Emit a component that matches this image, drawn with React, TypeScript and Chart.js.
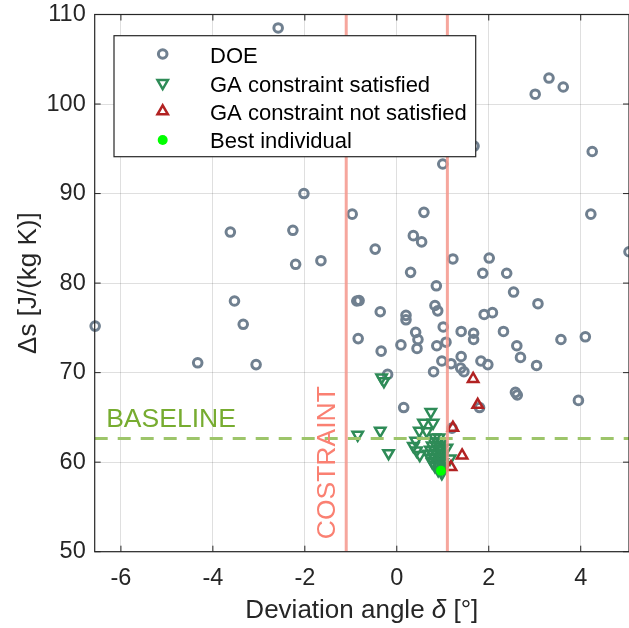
import { useEffect, useRef } from 'react';
import { Chart, registerables } from 'chart.js';
import { drawPoint } from 'chart.js/helpers';

Chart.register(...registerables);

// ---------- data ----------
const xTicks = [-6, -4, -2, 0, 2, 4];
const yTicks = [50, 60, 70, 80, 90, 100, 110];
const xRange = [-6.57, 5.05];
const yRange = [50, 110];
const constraintX = [-1.1, 1.1];
const baselineY = 62.65;
const legendLabels = ['DOE', 'GA constraint satisfied', 'GA constraint not satisfied', 'Best individual'];
const xLabel = ['Deviation angle ', 'δ', ' [°]'];
const yLabel = 'Δs [J/(kg K)]';

const doe: [number, number][] = [
  [-2.58, 108.5], [-2.02, 90.0], [-3.62, 85.7], [-2.26, 85.9], [-2.2, 82.1], [-1.65, 82.5],
  [-3.53, 78.0], [-3.34, 75.4], [-6.56, 75.2], [-4.33, 71.1], [-3.06, 70.9],
  [3.31, 102.9], [3.01, 101.1], [3.62, 101.9], [4.25, 94.7], [1.68, 95.3], [1.0, 93.3],
  [-0.97, 87.7], [0.59, 87.9], [4.22, 87.7], [-0.47, 83.8], [0.36, 85.3], [0.54, 84.6],
  [0.3, 81.2], [1.22, 82.7], [2.01, 82.8], [1.87, 81.1], [2.39, 81.1], [2.54, 79.0],
  [3.07, 77.7], [5.05, 83.5], [0.86, 79.7], [-0.87, 78.0], [-0.82, 78.05], [-0.36, 76.8],
  [0.2, 76.4], [0.2, 75.9], [0.83, 77.5], [0.89, 76.9], [1.9, 76.5], [2.08, 76.7],
  [-0.84, 73.8], [-0.34, 72.4], [0.09, 73.1], [0.41, 74.5], [0.46, 73.7], [0.44, 72.7],
  [0.87, 73.0], [1.01, 75.1], [1.07, 73.4], [0.98, 71.3], [0.8, 70.1], [1.18, 71.0],
  [1.4, 74.6], [1.4, 71.8], [1.39, 70.5], [1.46, 70.1], [1.67, 74.4], [1.67, 73.7],
  [1.83, 71.3], [1.98, 70.9], [2.32, 74.6], [2.61, 73.0], [2.69, 71.7], [3.04, 70.8],
  [3.57, 73.7], [4.1, 74.0], [2.58, 67.8], [2.62, 67.5], [3.95, 66.9], [0.15, 66.1],
  [-0.2, 69.8], [1.8, 66.1], [1.2, 63.8],
];

const gaSatisfied: [number, number][] = [
  [-0.33, 69.45], [-0.28, 69.05], [-0.85, 63.05], [-0.36, 63.5], [-0.18, 61.0],
  [0.74, 65.6], [0.58, 64.4], [0.79, 64.4], [0.49, 63.5], [0.65, 63.45],
  [0.41, 62.4], [0.36, 61.8], [0.43, 61.3], [0.5, 60.8], [1.09, 61.6], [1.16, 60.4],
  [0.83, 62.75], [0.92, 62.75],
  [0.81, 62.3], [0.9, 62.3], [0.97, 62.3],
  [0.77, 61.85], [0.86, 61.85], [0.94, 61.85],
  [0.73, 61.4], [0.81, 61.4], [0.9, 61.4], [0.97, 61.4],
  [0.68, 60.95], [0.77, 60.95], [0.86, 60.95], [0.94, 60.95], [1.0, 60.95],
  [0.73, 60.5], [0.81, 60.5], [0.9, 60.5], [0.97, 60.5],
  [0.77, 60.0], [0.86, 60.0], [0.94, 60.0], [1.0, 60.0],
  [0.83, 59.55], [0.92, 59.55], [0.99, 59.55],
  [0.9, 59.1], [0.96, 59.1],
  [0.98, 58.75],
];

const gaNotSatisfied: [number, number][] = [
  [1.66, 69.3], [1.76, 66.4], [1.22, 63.85], [1.42, 60.75], [1.18, 59.45],
];

const bestIndividual: [number, number][] = [[0.96, 59.05]];

// ---------- styles ----------
const W = 629;
const H = 628;
const FONT = "'Liberation Sans', Arial, Helvetica, sans-serif";
const AX = '#262626';
const GRID = 'rgba(38,38,38,0.15)';
const DOE_C = '#708090';
const SAT_C = '#2E8B57';
const NOT_C = '#B22222';
const BEST_C = '#00FF00';
const CONS_C = 'rgba(245,150,140,0.85)';
const BASE_C = '#9DC56A';

const toXY = (a: [number, number][]) => a.map(([x, y]) => ({ x, y }));

const markerStyles = [
  { pointStyle: 'circle', radius: 4.3, borderWidth: 3, rotation: 0, stroke: DOE_C, fill: 'rgba(0,0,0,0)' },
  { pointStyle: 'triangle', radius: 6, borderWidth: 2.5, rotation: 180, stroke: SAT_C, fill: 'rgba(0,0,0,0)' },
  { pointStyle: 'triangle', radius: 6, borderWidth: 2.5, rotation: 0, stroke: NOT_C, fill: 'rgba(0,0,0,0)' },
  { pointStyle: 'circle', radius: 5, borderWidth: 0, rotation: 0, stroke: BEST_C, fill: BEST_C },
];

const zeroPad = (s: any) => {
  s.paddingTop = 0;
  s.paddingBottom = 0;
  s.paddingLeft = 0;
  s.paddingRight = 0;
};

export default function App() {
  const ref = useRef<HTMLCanvasElement>(null);

  useEffect(() => {
    const canvas = ref.current;
    if (!canvas) return;

    const decor = {
      id: 'decor',
      afterDatasetsDraw(chart: any) {
        const { ctx, chartArea: a, scales } = chart;
        const sx = scales.x;
        const sy = scales.y;
        ctx.save();
        // annotations
        ctx.font = `26.5px ${FONT}`;
        ctx.fillStyle = '#77AC30';
        ctx.textAlign = 'left';
        ctx.textBaseline = 'alphabetic';
        ctx.fillText('BASELINE', sx.getPixelForValue(-6.32), sy.getPixelForValue(63.94));

        ctx.save();
        ctx.translate(sx.getPixelForValue(-1.34), sy.getPixelForValue(59.94));
        ctx.rotate(-Math.PI / 2);
        ctx.fillStyle = '#FA8072';
        ctx.textAlign = 'center';
        ctx.fillText('COSTRAINT', 0, 0);
        ctx.restore();

        // frame
        ctx.strokeStyle = AX;
        ctx.lineWidth = 1.2;
        ctx.strokeRect(a.left, a.top, a.right - a.left, a.bottom - a.top);
        ctx.lineWidth = 1;
        ctx.beginPath();
        const tl = 6;
        for (const v of xTicks) {
          const px = sx.getPixelForValue(v);
          ctx.moveTo(px, a.bottom);
          ctx.lineTo(px, a.bottom - tl);
          ctx.moveTo(px, a.top);
          ctx.lineTo(px, a.top + tl);
        }
        for (const v of yTicks) {
          const py = sy.getPixelForValue(v);
          ctx.moveTo(a.left, py);
          ctx.lineTo(a.left + tl, py);
          ctx.moveTo(a.right, py);
          ctx.lineTo(a.right - tl, py);
        }
        ctx.stroke();

        // axis titles
        ctx.fillStyle = AX;
        ctx.textBaseline = 'alphabetic';
        ctx.textAlign = 'left';
        const normal = `26px ${FONT}`;
        const italic = `italic 26px ${FONT}`;
        ctx.font = normal;
        const w0 = ctx.measureText(xLabel[0]).width;
        const w2 = ctx.measureText(xLabel[2]).width;
        ctx.font = italic;
        const w1 = ctx.measureText(xLabel[1]).width;
        let tx = (a.left + a.right) / 2 - (w0 + w1 + w2) / 2;
        const ty = 618.3;
        ctx.font = normal;
        ctx.fillText(xLabel[0], tx, ty);
        tx += w0;
        ctx.font = italic;
        ctx.fillText(xLabel[1], tx, ty);
        tx += w1;
        ctx.font = normal;
        ctx.fillText(xLabel[2], tx, ty);

        ctx.save();
        ctx.translate(35.5, (a.top + a.bottom) / 2);
        ctx.rotate(-Math.PI / 2);
        ctx.textAlign = 'center';
        ctx.font = normal;
        ctx.fillText(yLabel, 0, 0);
        ctx.restore();
        ctx.restore();
      },
      afterDraw(chart: any) {
        const { ctx } = chart;
        ctx.save();
        const bx = 114, by = 35.7, bw = 361.7, bh = 121;
        ctx.fillStyle = '#ffffff';
        ctx.fillRect(bx, by, bw, bh);
        ctx.strokeStyle = AX;
        ctx.lineWidth = 1.2;
        ctx.strokeRect(bx, by, bw, bh);
        const markerY = [54, 83, 111.3, 140];
        const textY = [63.3, 91.7, 120, 148.3];
        legendLabels.forEach((lab, i) => {
          const m = markerStyles[i];
          ctx.strokeStyle = m.stroke;
          ctx.fillStyle = m.fill;
          ctx.lineWidth = m.borderWidth;
          drawPoint(ctx, { pointStyle: m.pointStyle as any, rotation: m.rotation, radius: m.radius, borderWidth: m.borderWidth }, 162.7, markerY[i]);
          ctx.fillStyle = '#000000';
          ctx.font = `22px ${FONT}`;
          ctx.textAlign = 'left';
          ctx.textBaseline = 'alphabetic';
          ctx.fillText(lab, 210, textY[i]);
        });
        ctx.restore();
      },
    };

    const scatterDs = (label: string, pts: [number, number][], m: any, order: number) => ({
      label,
      data: toXY(pts),
      showLine: false,
      pointStyle: m.pointStyle,
      pointRotation: m.rotation,
      pointRadius: m.radius,
      pointBorderWidth: m.borderWidth,
      pointBorderColor: m.stroke,
      pointBackgroundColor: m.fill,
      order,
      clip: false,
    });

    const lineDs = (label: string, pts: { x: number; y: number }[], color: string, dash: number[]) => ({
      label,
      data: pts,
      showLine: true,
      borderColor: color,
      borderWidth: 3,
      borderDash: dash,
      pointRadius: 0,
      fill: false,
      order: 1,
    });

    const chart = new Chart(canvas, {
      type: 'scatter',
      data: {
        datasets: [
          scatterDs(legendLabels[3], bestIndividual, markerStyles[3], 0),
          lineDs('constraint-', [{ x: constraintX[0], y: yRange[0] }, { x: constraintX[0], y: yRange[1] }], CONS_C, []),
          lineDs('constraint+', [{ x: constraintX[1], y: yRange[0] }, { x: constraintX[1], y: yRange[1] }], CONS_C, []),
          lineDs('baseline', [{ x: xRange[0], y: baselineY }, { x: xRange[1], y: baselineY }], BASE_C, [13, 10]),
          scatterDs(legendLabels[2], gaNotSatisfied, markerStyles[2], 2),
          scatterDs(legendLabels[1], gaSatisfied, markerStyles[1], 3),
          scatterDs(legendLabels[0], doe, markerStyles[0], 4),
        ] as any,
      },
      options: {
        animation: false,
        responsive: false,
        devicePixelRatio: 1,
        events: [],
        layout: { autoPadding: false, padding: { top: 14.5, left: 0, right: 0, bottom: 0 } },
        plugins: { legend: { display: false }, tooltip: { enabled: false } },
        scales: {
          x: {
            type: 'linear',
            min: xRange[0],
            max: xRange[1],
            afterBuildTicks: (s: any) => { s.ticks = xTicks.map((v) => ({ value: v })); },
            afterFit: (s: any) => { s.height = H - 551.7; zeroPad(s); },
            grid: { color: GRID, lineWidth: 1, drawTicks: false },
            border: { display: false },
            ticks: {
              color: AX,
              font: { family: FONT, size: 23.5 },
              padding: 13,
              maxRotation: 0,
              autoSkip: false,
              callback: (v: any) => `${v}`,
            },
          },
          y: {
            type: 'linear',
            min: yRange[0],
            max: yRange[1],
            afterBuildTicks: (s: any) => { s.ticks = yTicks.map((v) => ({ value: v })); },
            afterFit: (s: any) => { s.width = 94.7; zeroPad(s); },
            grid: { color: GRID, lineWidth: 1, drawTicks: false },
            border: { display: false },
            ticks: {
              color: AX,
              font: { family: FONT, size: 23.5 },
              padding: 9,
              autoSkip: false,
              callback: (v: any) => `${v}`,
            },
          },
        },
      } as any,
      plugins: [decor],
    });

    return () => chart.destroy();
  }, []);

  return (
    <div style={{ position: 'absolute', left: 0, top: 0, width: W, height: H, background: '#fff' }}>
      <canvas ref={ref} width={W} height={H} style={{ display: 'block', width: W, height: H }} />
    </div>
  );
}
